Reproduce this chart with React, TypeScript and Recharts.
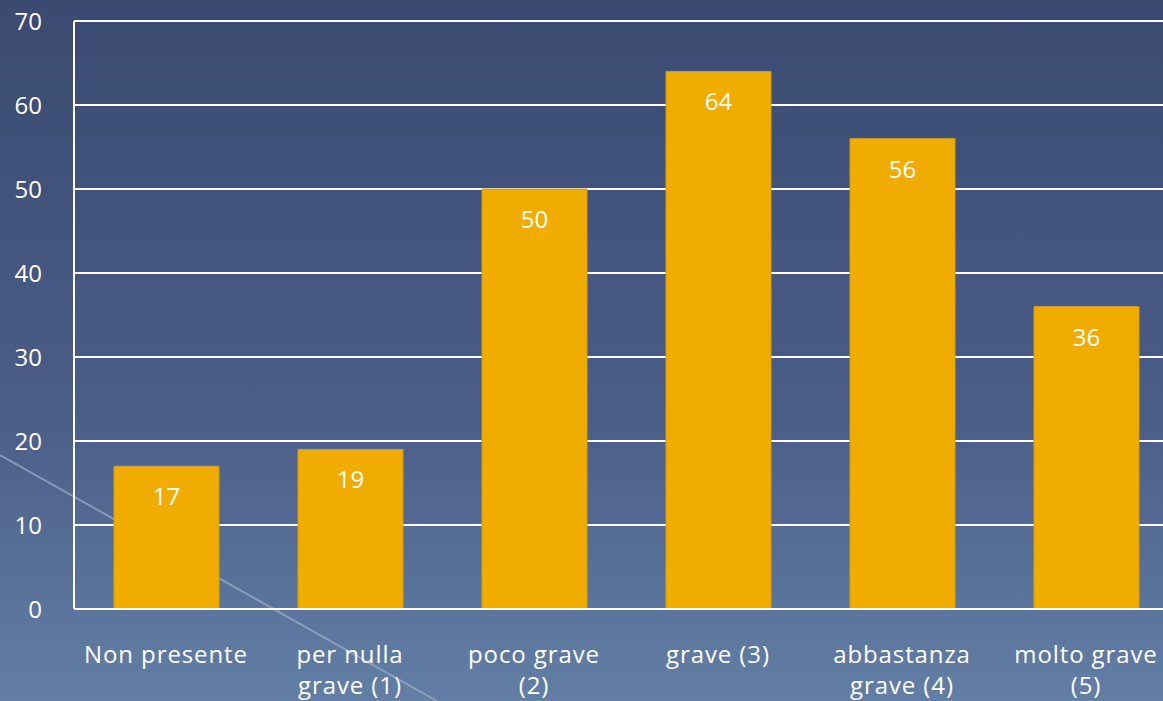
import React from "react";
import { BarChart, Bar, XAxis, YAxis, CartesianGrid, LabelList } from "recharts";

const categories = ["Non presente", "per nulla\ngrave (1)", "poco grave\n(2)", "grave (3)", "abbastanza\ngrave (4)", "molto grave\n(5)"];
const values = [17, 19, 50, 64, 56, 36];
const yTicks = [0, 10, 20, 30, 40, 50, 60, 70];

const data = categories.map((c, i) => ({ name: c, value: values[i] }));

const FONT = "'Open Sans', 'DejaVu Sans', sans-serif";

const XTick = (props: any) => {
  const { x, y, payload } = props;
  const lines = String(payload.value).split("\n");
  return (
    <g transform={`translate(${x},${y})`}>
      <text textAnchor="middle" fill="#ffffff" fontSize={24} fontFamily={FONT} fontWeight={400} letterSpacing={0.9}>
        {lines.map((l: string, i: number) => (
          <tspan key={i} x={0} dy={i === 0 ? 46 : 31}>{l}</tspan>
        ))}
      </text>
    </g>
  );
};

export default function App() {
  return (
    <div style={{ position: "fixed", left: 0, top: 0, width: 1163, height: 701, overflow: "hidden", background: "linear-gradient(180deg, #3a4a70 0%, #4b5e88 60%, #637fa6 100%)" }}>
      <svg width={1163} height={701} style={{ position: "absolute", left: 0, top: 0 }}>
        <line x1={0} y1={455} x2={437} y2={701} stroke="#9aaac4" strokeWidth={2} opacity={0.75} />
      </svg>
      <div style={{ position: "absolute", left: 0, top: 0 }}>
        <BarChart width={1180} height={701} data={data} margin={{ top: 21, right: 2, bottom: 0, left: 0 }} barSize={105}>
          <CartesianGrid horizontal vertical={false} stroke="#ffffff" strokeWidth={2} />
          <XAxis dataKey="name" interval={0} height={92} tick={<XTick />} axisLine={{ stroke: "#ffffff", strokeWidth: 2 }} tickLine={false} />
          <YAxis domain={[0, 70]} ticks={yTicks} width={74} axisLine={{ stroke: "#ffffff", strokeWidth: 2 }} tickLine={false} tickMargin={26} tick={{ fill: "#ffffff", fontSize: 24, fontFamily: FONT, fontWeight: 400 }} />
          <Bar dataKey="value" fill="#f0ac00" stroke="#d99c0a" strokeWidth={1} isAnimationActive={false}>
            <LabelList dataKey="value" position="insideTop" offset={22} fill="#ffffff" fontSize={24} fontFamily={FONT} fontWeight={400} />
          </Bar>
        </BarChart>
      </div>
    </div>
  );
}
